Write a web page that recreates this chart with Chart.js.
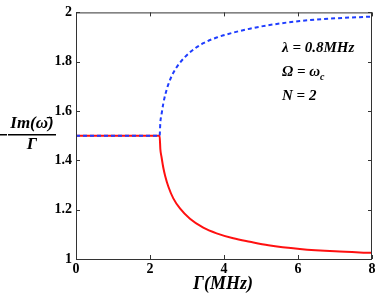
<!DOCTYPE html>
<html>
<head>
<meta charset="utf-8">
<script src="https://cdn.jsdelivr.net/npm/chart.js@4/dist/chart.umd.min.js"></script>
<style>
  html, body { margin: 0; padding: 0; background: #fff; }
  #wrap { width: 382px; height: 298px; position: relative; }
</style>
</head>
<body>
<div id="wrap"><canvas id="plot" width="382" height="298"></canvas></div>
<script>
// Gamma (MHz) sample points
const gammaVals = [0, 2.26, 2.28, 2.31, 2.36, 2.41, 2.5, 2.63, 2.81, 3.08, 3.44, 3.8, 4.25, 4.7, 5.2, 6.05, 7, 8];
// -Im(w)/Gamma, upper branch (blue dashed)
const upperVals = [1.5, 1.5, 1.555, 1.585, 1.631, 1.665, 1.71, 1.755, 1.796, 1.838, 1.875, 1.898, 1.918, 1.934, 1.948, 1.965, 1.976, 1.983];
// -Im(w)/Gamma, lower branch (red solid)
const lowerVals = [1.5, 1.5, 1.445, 1.415, 1.37, 1.337, 1.292, 1.246, 1.205, 1.163, 1.127, 1.104, 1.084, 1.07, 1.056, 1.041, 1.031, 1.025];
const xTicks = [0, 2, 4, 6, 8];
const yTicks = [1, 1.2, 1.4, 1.6, 1.8, 2];
const notes = ['λ = 0.8MHz', 'Ω = ω', 'N = 2'];

const serifBoldIt = 'italic bold 15px "Liberation Serif", "DejaVu Serif", serif';
const tickFont = { family: '"Liberation Serif", serif', size: 14, weight: 'bold' };

function pts(ys) {
  return gammaVals.map((g, i) => ({ x: g, y: ys[i] }));
}

// inward ticks on all four sides + box + extra labels
const decor = {
  id: 'decor',
  afterDraw(chart) {
    const ctx = chart.ctx;
    const a = chart.chartArea;
    const xs = chart.scales.x, ys = chart.scales.y;
    ctx.save();
    ctx.strokeStyle = '#333';
    ctx.lineWidth = 1;
    ctx.strokeRect(a.left + 0.5, a.top + 0.5, a.right - a.left - 1, a.bottom - a.top);
    ctx.beginPath();
    xTicks.forEach(v => {
      const px = Math.round(xs.getPixelForValue(v)) + 0.5;
      ctx.moveTo(px, a.bottom); ctx.lineTo(px, a.bottom - 4);
      ctx.moveTo(px, a.top); ctx.lineTo(px, a.top + 4);
    });
    yTicks.forEach(v => {
      const py = Math.round(ys.getPixelForValue(v)) + 0.5;
      ctx.moveTo(a.left, py); ctx.lineTo(a.left + 4, py);
      ctx.moveTo(a.right, py); ctx.lineTo(a.right - 4, py);
    });
    ctx.stroke();

    ctx.fillStyle = '#000';
    ctx.textBaseline = 'middle';
    // y title as a fraction with leading minus
    ctx.fillRect(0, 134, 7, 1.5);
    ctx.fillRect(8, 134, 48, 1.5);
    ctx.font = 'italic bold 17px "Liberation Serif", "DejaVu Serif", serif';
    ctx.textAlign = 'center';
    ctx.fillText('Im(ω̄)', 32, 124);
    ctx.fillText('Γ', 32, 145);

    // x title
    ctx.font = 'italic bold 18px "Liberation Serif", "DejaVu Serif", serif';
    ctx.fillText('Γ(MHz)', 223, 284);

    // parameter notes
    ctx.textAlign = 'left';
    ctx.font = serifBoldIt;
    ctx.fillText(notes[0], 282, 48);
    ctx.fillText(notes[1], 282, 72);
    const w = ctx.measureText(notes[1]).width;
    ctx.font = 'italic bold 10px "Liberation Serif", serif';
    ctx.fillText('c', 282 + w, 77);
    ctx.font = serifBoldIt;
    ctx.fillText(notes[2], 282, 96);
    ctx.restore();
  }
};

new Chart(document.getElementById('plot').getContext('2d'), {
  type: 'line',
  data: {
    datasets: [{
      label: 'upper',
      data: pts(upperVals),
      borderColor: '#1f3dff',
      borderWidth: 2,
      borderDash: [4, 3],
      pointRadius: 0,
      fill: false,
      cubicInterpolationMode: 'monotone'
    }, {
      label: 'lower',
      data: pts(lowerVals),
      borderColor: '#ff1010',
      borderWidth: 2,
      pointRadius: 0,
      fill: false,
      cubicInterpolationMode: 'monotone'
    }]
  },
  options: {
    responsive: false,
    animation: false,
    layout: { padding: { left: 0, top: 6, right: 10, bottom: 0 } },
    plugins: { legend: { display: false }, tooltip: { enabled: false } },
    scales: {
      x: {
        type: 'linear', min: 0, max: 8,
        afterFit: s => { s.height = 39; },
        afterBuildTicks: s => { s.ticks = xTicks.map(v => ({ value: v })); },
        grid: { display: false, drawTicks: false, tickLength: 0 },
        border: { display: false },
        ticks: { color: '#000', font: tickFont, padding: 2, maxRotation: 0 }
      },
      y: {
        type: 'linear', min: 1, max: 2,
        afterFit: s => { s.width = 76; },
        afterBuildTicks: s => { s.ticks = yTicks.map(v => ({ value: v })); },
        grid: { display: false, drawTicks: false, tickLength: 0 },
        border: { display: false },
        ticks: { color: '#000', font: tickFont, padding: 4,
          callback: v => String(Math.round(v * 10) / 10) }
      }
    }
  },
  plugins: [decor]
});
</script>
</body>
</html>
